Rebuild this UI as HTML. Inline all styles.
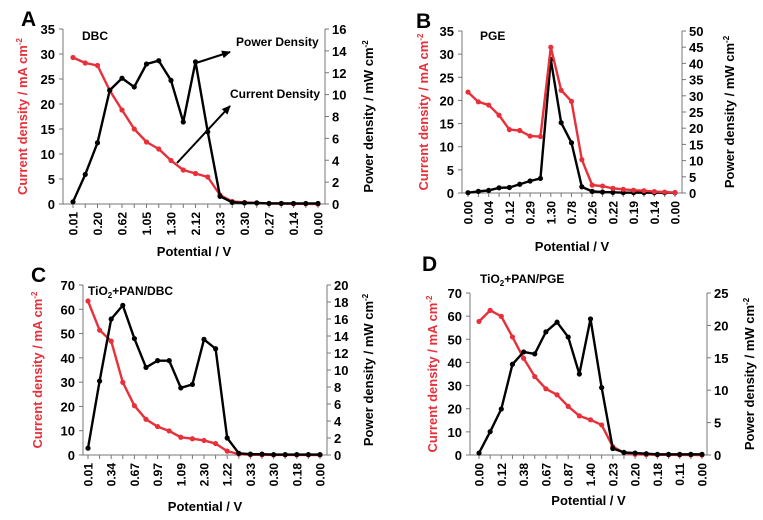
<!DOCTYPE html>
<html><head><meta charset="utf-8"><style>
body{margin:0;background:#fff;}
svg{display:block;font-family:"Liberation Sans",sans-serif;font-weight:bold;}
</style></head><body>
<svg id="chart" width="763" height="520" viewBox="0 0 763 520" xmlns="http://www.w3.org/2000/svg">
<defs><marker id="ah" markerUnits="userSpaceOnUse" markerWidth="9" markerHeight="8" refX="8" refY="4" orient="auto"><path d="M0,0 L9,4 L0,8 z" fill="#000"/></marker></defs>
</svg>
<script>
// Panel A (DBC)
const labelsA = ["0.01","0.20","0.62","1.05","1.30","2.12","0.33","0.30","0.27","0.14","0.00"];
const currentA = [29.3,28.2,27.7,22.7,18.8,15,12.4,11,8.7,6.8,6.1,5.4,1.8,0.5,0.3,0.2,0.1,0.1,0.05,0.05,0];
const powerA = [0.2,2.7,5.6,10.4,11.5,10.7,12.8,13.1,11.3,7.5,13.0,6.6,0.7,0.15,0.1,0.1,0.05,0.05,0.05,0.05,0.05];
const leftTicksA = [0,5,10,15,20,25,30,35];
const rightTicksA = [0,2,4,6,8,10,12,14,16];
// Panel B (PGE)
const labelsB = ["0.00","0.04","0.12","0.29","1.30","0.78","0.26","0.22","0.19","0.14","0.00"];
const currentB = [21.8,19.7,19,16.8,13.7,13.5,12.3,12.2,31.5,22.2,19.8,7.2,1.7,1.5,1.0,0.8,0.6,0.5,0.3,0.2,0.1];
const powerB = [0.1,0.5,0.8,1.6,1.7,2.7,3.7,4.5,41.2,21.7,15.5,1.9,0.5,0.3,0.2,0.1,0.1,0.1,0.1,0.1,0.1];
const leftTicksB = [0,5,10,15,20,25,30,35];
const rightTicksB = [0,5,10,15,20,25,30,35,40,45,50];
// Panel C (TiO2+PAN/DBC)
const labelsC = ["0.01","0.34","0.67","0.97","1.09","2.30","1.22","0.33","0.30","0.18","0.00"];
const currentC = [63.4,51.4,46.9,29.9,20.3,14.7,11.7,9.9,7.3,6.7,6.0,4.7,1.6,0.4,0.1,0.1,0.05,0.05,0.05,0.05,0];
const powerC = [0.8,8.7,16.0,17.6,13.7,10.3,11.1,11.1,7.9,8.3,13.6,12.5,2.0,0.2,0.1,0.1,0.05,0.05,0.05,0.05,0.05];
const leftTicksC = [0,10,20,30,40,50,60,70];
const rightTicksC = [0,2,4,6,8,10,12,14,16,18,20];
// Panel D (TiO2+PAN/PGE)
const labelsD = ["0.00","0.12","0.38","0.67","0.87","1.40","0.23","0.20","0.18","0.11","0.00"];
const currentD = [57.7,62.5,59.9,51,41.8,33.9,28.6,26,21,16.9,15.2,13,3.6,1,0.3,0.2,0.1,0.1,0.05,0.05,0];
const powerD = [0.3,3.6,7.1,14,15.9,15.6,19,20.5,18.2,12.5,21,10.4,1,0.4,0.3,0.2,0.1,0.1,0.1,0.1,0.1];
const leftTicksD = [0,10,20,30,40,50,60,70];
const rightTicksD = [0,5,10,15,20,25];

const NS="http://www.w3.org/2000/svg";
const svg=document.getElementById('chart');
function mk(tag,attrs,parent){const e=document.createElementNS(NS,tag);for(const k in attrs)e.setAttribute(k,attrs[k]);(parent||svg).appendChild(e);return e;}

const panels=[
 {id:'a',letter:'A',lx:21,ly:26,tx:82,ty:40,L:63,R:325,T:29,B:204,x0:73,x1:318,lmax:35,rmax:16,labels:labelsA,cur:currentA,pow:powerA,lt:leftTicksA,rt:rightTicksA,ltx:22,rtx:368,xt:256},
 {id:'b',letter:'B',lx:416,ly:28,tx:480,ty:40,L:462,R:682,T:31,B:193,x0:468,x1:675,lmax:35,rmax:50,labels:labelsB,cur:currentB,pow:powerB,lt:leftTicksB,rt:rightTicksB,ltx:423,rtx:729,xt:251},
 {id:'c',letter:'C',lx:31,ly:282,tx:88,ty:295,L:83,R:327,T:285,B:455,x0:88,x1:320,lmax:70,rmax:20,labels:labelsC,cur:currentC,pow:powerC,lt:leftTicksC,rt:rightTicksC,ltx:37,rtx:368,xt:511},
 {id:'d',letter:'D',lx:422,ly:271,tx:480,ty:283,L:470,R:707,T:293,B:455,x0:479,x1:702,lmax:70,rmax:25,labels:labelsD,cur:currentD,pow:powerD,lt:leftTicksD,rt:rightTicksD,ltx:432,rtx:749,xt:505}
];
const titles={a:'DBC',b:'PGE',c:'PAN/DBC',d:'PAN/PGE'};

panels.forEach(p=>{
 const g=mk('g',{});
 
 
 const n=p.cur.length;
 const xS=i=>p.x0+(p.x1-p.x0)*i/(n-1);
 const yL=v=>p.B-(p.B-p.T)*v/p.lmax;
 const yR=v=>p.B-(p.B-p.T)*v/p.rmax;
 const let_=mk('text',{x:p.lx,y:p.ly,'font-size':21,fill:'#000'},g);let_.textContent=p.letter;
 
 
 const t=mk('text',{x:p.tx,y:p.ty,'font-size':12,fill:'#000'},g);
 
 
 if(p.id==='a'||p.id==='b'){t.textContent=titles[p.id];}
 else{t.textContent='TiO';const s=mk('tspan',{'font-size':8,dy:3},t);s.textContent='2';const s2=mk('tspan',{dy:-3},t);s2.textContent='+'+titles[p.id];}
 const ax=mk('path',{d:`M${p.L},${p.T}V${p.B}H${p.R}V${p.T}`,stroke:'#777',fill:'none','stroke-width':1},g);
 
 
 p.lt.forEach(v=>{
  mk('line',{x1:p.L-4,x2:p.L,y1:yL(v),y2:yL(v),stroke:'#777'},g);
  const tl=mk('text',{x:p.L-8,y:yL(v)+5,'text-anchor':'end','font-size':13,fill:'#000'},g);tl.textContent=v;
  
  
 });
 p.rt.forEach(v=>{
  mk('line',{x1:p.R,x2:p.R+4,y1:yR(v),y2:yR(v),stroke:'#777'},g);
  const tr=mk('text',{x:p.R+7,y:yR(v)+5,'font-size':13,fill:'#000'},g);tr.textContent=v;
  
  
 });
 for(let i=0;i<n;i++){mk('line',{x1:xS(i),x2:xS(i),y1:p.B,y2:p.B+4,stroke:'#777'},g);}
 p.labels.forEach((lb,k)=>{
  const x=xS(k*2);
  const tx=mk('text',{x:0,y:0,transform:`translate(${x+4.5},${p.B+8}) rotate(-90)`,'text-anchor':'end','font-size':12,fill:'#000'},g);tx.textContent=lb;
  
  
 });
 const xt=mk('text',{x:(p.L+p.R)/2,y:p.xt,'text-anchor':'middle','font-size':13,fill:'#000'},g);xt.textContent='Potential / V';
 
 
 const cy=(p.T+p.B)/2;
 const lt=mk('text',{transform:`translate(${p.ltx+5},${cy}) rotate(-90)`,'text-anchor':'middle','font-size':13,fill:'#e8303a'},g);
 lt.textContent='Current density / mA cm';const ls=mk('tspan',{'font-size':8,dy:-5},lt);ls.textContent='-2';
 
 
 const rt=mk('text',{transform:`translate(${p.rtx+5},${cy}) rotate(-90)`,'text-anchor':'middle','font-size':13,fill:'#000'},g);
 rt.textContent='Power density / mW cm';const rs=mk('tspan',{'font-size':8,dy:-5},rt);rs.textContent='-2';
 
 
 const series=[[p.cur,yL,'#e8303a','current-density-line'],[p.pow,yR,'#000','power-density-line']];
 if(p.id==='b') series.reverse();
 series.forEach(([arr,yf,col,nm])=>{
  const pl=mk('polyline',{points:arr.map((v,i)=>xS(i)+','+yf(v)).join(' '),fill:'none',stroke:col,'stroke-width':2.4,'stroke-linejoin':'round'},g);
  
  
  arr.forEach((v,i)=>{
   const c=mk('circle',{cx:xS(i),cy:yf(v),r:2.6,fill:col},g);
   
   
  });
 });
});
const a1=mk('line',{x1:196,y1:63,x2:230,y2:52,stroke:'#000','stroke-width':2,'marker-end':'url(#ah)'});


const a2=mk('line',{x1:177,y1:163,x2:230,y2:106,stroke:'#000','stroke-width':2,'marker-end':'url(#ah)'});


const t1=mk('text',{x:236,y:46,'font-size':12,fill:'#000'});t1.textContent='Power Density';


const t2=mk('text',{x:230,y:98,'font-size':12,fill:'#000'});t2.textContent='Current Density';


</script>
</body></html>
